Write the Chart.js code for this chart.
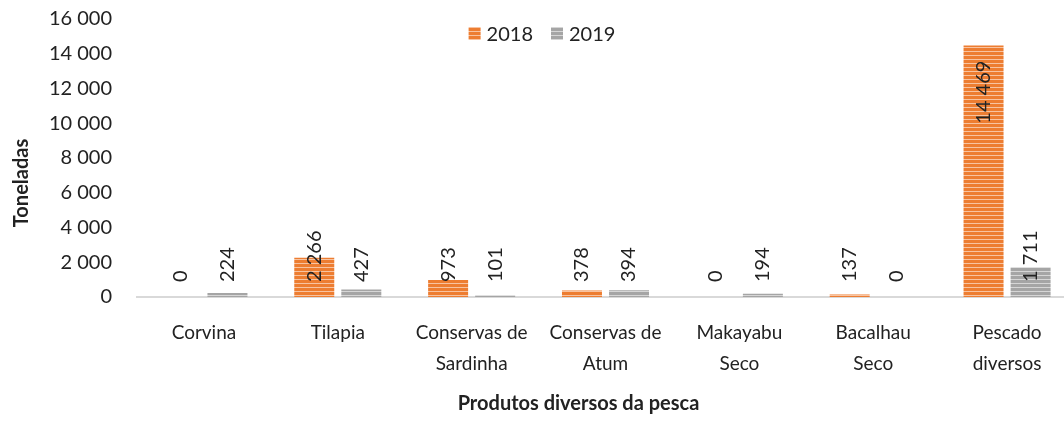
<!DOCTYPE html>
<html>
<head>
<meta charset="utf-8">
<script src="https://cdn.jsdelivr.net/npm/chart.js@4.4.1/dist/chart.umd.min.js"></script>
<style>
  html, body { margin: 0; padding: 0; background: #fff; overflow: hidden; }
  #wrap { width: 1090px; height: 421px; position: relative; }
</style>
</head>
<body>
<div id="wrap"><canvas id="graphCanvas"></canvas></div>
<script>
var categories = [
    ['Corvina'],
    ['Tilapia'],
    ['Conservas de', 'Sardinha'],
    ['Conservas de', 'Atum'],
    ['Makayabu', 'Seco'],
    ['Bacalhau', 'Seco'],
    ['Pescado', 'diversos']
];
var years = ['2018', '2019'];
var tons2018 = [0, 2266, 973, 378, 0, 137, 14469];
var tons2019 = [224, 427, 101, 394, 194, 0, 1711];
var yMax = 16000;
var yStep = 2000;

var FONT = 'Lato';
var INK = '#222222';

// "14469" -> "14 469"
function fmt(v) {
    return String(v).replace(/\B(?=(\d{3})+(?!\d))/g, ' ');
}

var canvas = document.getElementById('graphCanvas');
var ctxMain = canvas.getContext('2d');

function stripes(base, light) {
    var c = document.createElement('canvas');
    c.width = 4;
    c.height = 4;
    var x = c.getContext('2d');
    x.fillStyle = base;
    x.fillRect(0, 0, 4, 4);
    x.fillStyle = light;
    x.fillRect(0, 3, 4, 1);
    return ctxMain.createPattern(c, 'repeat');
}

var orange = stripes('#ED7D31', '#F8C3A0');
var grey = stripes('#A5A5A5', '#D6D6D6');

// value labels, legend and axis titles
var extras = {
    id: 'extras',
    afterDatasetsDraw: function(chart) {
        var ctx = chart.ctx;
        var area = chart.chartArea;
        ctx.save();
        ctx.fillStyle = INK;
        ctx.font = '20px ' + FONT;
        ctx.textBaseline = 'middle';

        chart.data.datasets.forEach(function(ds, i) {
            chart.getDatasetMeta(i).data.forEach(function(bar, j) {
                var txt = fmt(ds.data[j]);
                var w = ctx.measureText(txt).width;
                var h = bar.base - bar.y;
                ctx.save();
                ctx.translate(bar.x, 0);
                ctx.rotate(-Math.PI / 2);
                if (h > w + 40) {
                    ctx.textAlign = 'right';
                    ctx.fillText(txt, -(bar.y + 15), 0);
                } else {
                    ctx.textAlign = 'left';
                    ctx.fillText(txt, -(bar.base - 15), 0);
                }
                ctx.restore();
            });
        });

        // legend
        ctx.textAlign = 'left';
        var boxW = 12, boxH = 13, gap = 6, itemGap = 18;
        var total = 0;
        chart.data.datasets.forEach(function(ds, i) {
            total += boxW + gap + ctx.measureText(ds.label).width + (i ? itemGap : 0);
        });
        var lx = chart.width / 2 - total / 2 - 3;
        var ly = 33.5;
        chart.data.datasets.forEach(function(ds) {
            ctx.fillStyle = ds.backgroundColor;
            ctx.fillRect(lx, ly - boxH / 2, boxW, boxH);
            lx += boxW + gap;
            ctx.fillStyle = INK;
            ctx.fillText(ds.label, lx, ly + 1);
            lx += ctx.measureText(ds.label).width + itemGap;
        });

        // axis titles
        ctx.font = 'bold 20px ' + FONT;
        ctx.textAlign = 'center';
        ctx.fillText('Produtos diversos da pesca', (area.left + area.right) / 2 - 27, 404);
        ctx.translate(22, (area.top + area.bottom) / 2 + 25);
        ctx.rotate(-Math.PI / 2);
        ctx.fillText('Toneladas', 0, 0);
        ctx.restore();
    }
};

new Chart(canvas, {
    type: 'bar',
    data: {
        labels: categories,
        datasets: [
            { label: years[0], data: tons2018, backgroundColor: orange, borderWidth: 0 },
            { label: years[1], data: tons2019, backgroundColor: grey, borderWidth: 0 }
        ]
    },
    options: {
        responsive: true,
        maintainAspectRatio: false,
        animation: false,
        categoryPercentage: 0.703,
        barPercentage: 0.85,
        layout: { padding: { top: 19, right: 16, left: 0, bottom: 0 } },
        plugins: {
            legend: { display: false },
            tooltip: { enabled: false }
        },
        scales: {
            x: {
                grid: { display: false, drawTicks: true, tickLength: 21 },
                border: { color: '#D9D9D9', width: 2 },
                ticks: {
                    color: INK,
                    font: { family: FONT, size: 19, lineHeight: 1.6 },
                    padding: 0,
                    maxRotation: 0,
                    autoSkip: false
                },
                afterFit: function(s) { s.height = 124; }
            },
            y: {
                min: 0,
                max: yMax,
                grid: { display: false, drawTicks: true, tickLength: 25 },
                border: { display: false },
                ticks: {
                    stepSize: yStep,
                    color: INK,
                    font: { family: FONT, size: 20 },
                    padding: 0,
                    callback: function(v) { return fmt(v); }
                },
                afterFit: function(s) { s.width = 137; }
            }
        }
    },
    plugins: [extras]
});
</script>
</body>
</html>
